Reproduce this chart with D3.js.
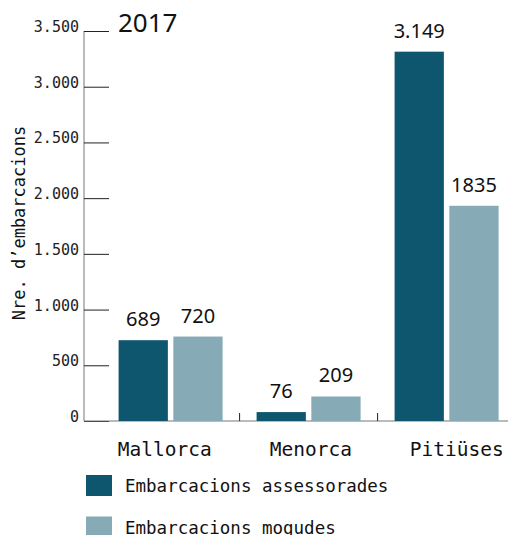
<!DOCTYPE html>
<html>
<head>
<meta charset="utf-8">
<script src="https://cdn.jsdelivr.net/npm/d3@7"></script>
<style>
  body { margin: 0; background: #fff; }
  text { font-family: "DejaVu Sans Mono", monospace; }
  .sans { font-family: "Noto Sans", sans-serif; }
</style>
</head>
<body>
<div id="chart"></div>
<script>
// data
var islands = ["Mallorca", "Menorca", "Pitiüses"];
var seriesNames = ["Embarcacions assessorades", "Embarcacions mogudes"];
var assessorades = [689, 76, 3149];
var mogudes = [720, 209, 1835];
var assessoradesLabels = ["689", "76", "3.149"];
var mogudesLabels = ["720", "209", "1835"];
var yTicks = [0, 500, 1000, 1500, 2000, 2500, 3000, 3500];
var yTickLabels = ["0", "500", "1.000", "1.500", "2.000", "2.500", "3.000", "3.500"];
var colors = ["#0d566d", "#86abb6"];

function init(){
  var w = 508, h = 535;
  var svg = d3.select("#chart")
    .append("svg")
      .attr("width", w)
      .attr("height", h);

  var base = 421;
  // axis scale
  var y = d3.scaleLinear().domain([0, 3500]).range([base, 31]);
  // the bars are drawn a bit taller than the axis
  var yBar = d3.scaleLinear().domain([0, 3500]).range([base, 10.5]);

  var x = d3.scaleBand().domain(islands).range([101.6, 515.6]);
  var x1 = d3.scaleBand().domain(seriesNames).range([17, 121]).paddingInner(0.1);
  // the island names do not sit exactly on the band centres
  var xLab = d3.scaleBand().domain(islands).range([91.8, 529.8]);

  // y axis
  var yAxis = svg.append("g")
    .attr("transform", "translate(84,0)")
    .call(d3.axisRight(y).tickValues(yTicks).tickSize(25)
      .tickFormat(function(d, i){ return yTickLabels[i]; }));
  yAxis.select(".domain").attr("stroke", "#777").attr("d", "M0," + y(3500) + "V" + base);
  yAxis.selectAll(".tick line").attr("stroke", "#222");
  yAxis.selectAll(".tick text")
    .attr("x", -5)
    .attr("y", 0.5)
    .attr("dy", "0")
    .attr("text-anchor", "end")
    .style("font-size", "15px")
    .attr("fill", "#222");

  // x axis
  var xAxis = svg.append("g")
    .attr("transform", "translate(0," + base + ")")
    .call(d3.axisBottom(xLab).tickSize(0).tickPadding(0));
  xAxis.select(".domain").attr("stroke", "#777").attr("d", "M84,0H" + w);
  xAxis.selectAll(".tick text")
    .attr("y", 35)
    .attr("dy", "0")
    .style("font-size", "19.5px")
    .attr("fill", "#111");
  xAxis.selectAll(".sep")
    .data(islands.slice(1))
    .enter()
    .append("line")
      .attr("x1", function(d){ return x(d); })
      .attr("x2", function(d){ return x(d); })
      .attr("y1", 0)
      .attr("y2", -8)
      .attr("stroke", "#222");

  // bars
  var rows = islands.map(function(d, i){
    return { island: d, values: [
      { key: seriesNames[0], value: assessorades[i], label: assessoradesLabels[i] },
      { key: seriesNames[1], value: mogudes[i], label: mogudesLabels[i] }
    ]};
  });
  var color = d3.scaleOrdinal().domain(seriesNames).range(colors);

  var groups = svg.selectAll("g.grp")
    .data(rows)
    .enter()
    .append("g")
      .attr("class", "grp")
      .attr("transform", function(d){ return "translate(" + x(d.island) + ",0)"; });

  groups.selectAll("rect")
    .data(function(d){ return d.values; })
    .enter()
    .append("rect")
      .attr("x", function(d){ return x1(d.key); })
      .attr("y", function(d){ return yBar(d.value); })
      .attr("width", x1.bandwidth())
      .attr("height", function(d){ return base - yBar(d.value); })
      .style("fill", function(d){ return color(d.key); });

  groups.selectAll("text.val")
    .data(function(d){ return d.values; })
    .enter()
    .append("text")
      .attr("class", "val sans")
      .attr("x", function(d){ return x1(d.key) + x1.bandwidth() / 2; })
      .attr("y", function(d){ return yBar(d.value) - 14; })
      .attr("text-anchor", "middle")
      .style("font-size", "20px")
      .attr("fill", "#111")
      .text(function(d){ return d.label; });

  // title
  svg.append("text")
    .attr("class", "sans")
    .attr("x", 118)
    .attr("y", 31.5)
    .style("font-size", "26px")
    .attr("fill", "#111")
    .text("2017");

  // y label
  svg.append("text")
    .attr("transform", "rotate(-90)")
    .attr("x", -223)
    .attr("y", 25)
    .attr("text-anchor", "middle")
    .style("font-size", "17px")
    .attr("fill", "#111")
    .text("Nre. d’embarcacions");

  // legend
  svg.selectAll("rect.leg")
    .data(seriesNames)
    .enter()
    .append("rect")
      .attr("class", "leg")
      .attr("x", 86)
      .attr("y", function(d, i){ return 475 + i * 41.5; })
      .attr("width", 26)
      .attr("height", 21)
      .style("fill", function(d){ return color(d); });

  svg.selectAll("text.leg")
    .data(seriesNames)
    .enter()
    .append("text")
      .attr("class", "leg")
      .attr("x", 125)
      .attr("y", function(d, i){ return 492 + i * 41.5; })
      .style("font-size", "17.5px")
      .attr("fill", "#111")
      .text(function(d){ return d; });
}
window.onload = init;
</script>
</body>
</html>
